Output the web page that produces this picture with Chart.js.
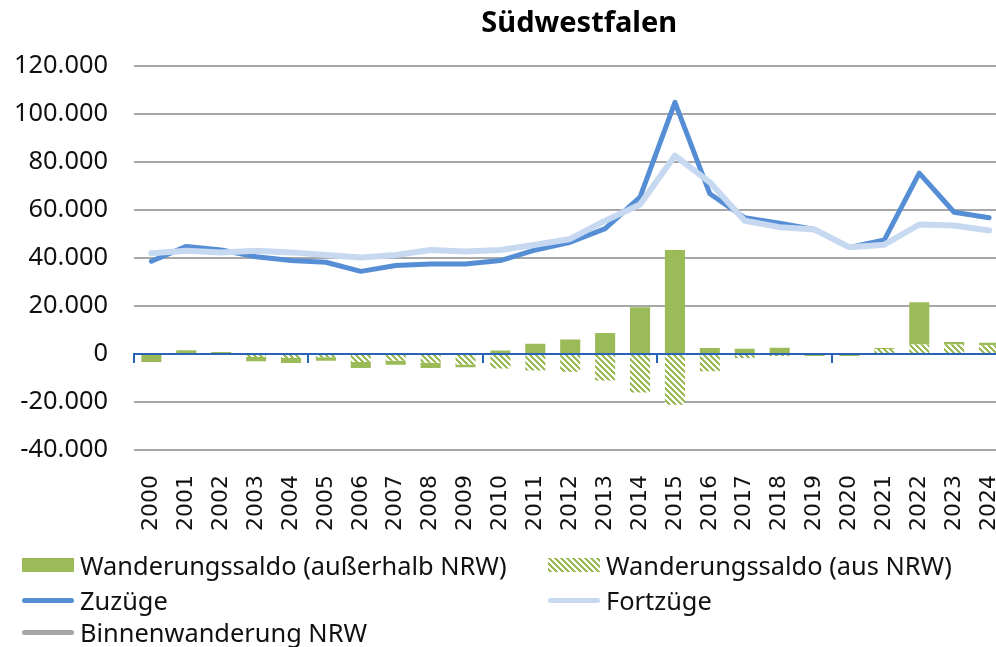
<!DOCTYPE html>
<html><head><meta charset="utf-8">
<script src="https://cdn.jsdelivr.net/npm/chart.js@4/dist/chart.umd.min.js"></script>
<style>
html,body{margin:0;padding:0;background:#fff;overflow:hidden;width:996px;height:647px;}
#wrap{position:absolute;left:0;top:0;}
#legend{position:absolute;left:0;top:0;width:996px;height:647px;font-family:'Noto Sans';font-size:25.4px;color:#111;pointer-events:none;}
.item{position:absolute;display:flex;align-items:center;white-space:nowrap;height:30px;}
.sw{width:52px;margin-right:6px;flex:none;}
</style></head><body>
<div id="wrap"><canvas id="c" width="1060" height="530"></canvas></div>
<div id="legend"></div>
<script>
const years = ['2000','2001','2002','2003','2004','2005','2006','2007','2008','2009','2010','2011','2012','2013','2014','2015','2016','2017','2018','2019','2020','2021','2022','2023','2024'];
const saldoAusserhalbNRW = [-3400,1500,800,-1700,-2100,-1400,-2500,-1700,-2100,-1100,1400,4200,6000,8700,19400,43300,2500,2200,2600,-900,-900,400,17600,1100,1100];
const saldoAusNRW = [0,0,0,-1300,-1700,-1400,-3300,-2800,-3700,-4400,-6100,-6900,-7400,-11100,-16000,-21100,-7200,-1700,-900,0,0,2100,3900,3900,3600];
const zuzuege = [38600,44800,43300,40500,38900,38200,34400,36800,37500,37500,38900,43300,46500,52200,65300,104800,66700,56700,54400,51800,44400,47500,75300,59000,56700];
const fortzuege = [41900,43000,42300,43000,42300,41200,40200,41200,43300,42700,43300,45500,47900,55500,62200,82600,71500,55500,52800,51800,44400,45500,53900,53500,51400];
const binnenwanderungNRW = [null,null,null,null,null,null,null,null,null,null,null,null,null,null,null,null,null,null,null,null,null,null,null,null,null];
const yMin = -40000, yMax = 120000, yStep = 20000;

const GREEN = '#9bbb59', DARKBLUE = '#558ed5', LIGHTBLUE = '#c6d9f1', GRAY = '#a6a6a6', AXISBLUE = '#2a62b5';

function makeHatchCanvas(color){
  const size = 6;
  const c = document.createElement('canvas'); c.width = size; c.height = size;
  const g = c.getContext('2d');
  g.fillStyle = '#fff'; g.fillRect(0,0,size,size);
  g.fillStyle = color;
  for (let y=0;y<size;y++) for (let x=0;x<size;x++) if ((((x - y) % size) + size) % size < 3) g.fillRect(x,y,1,1);
  return c;
}
const hatchCanvas = makeHatchCanvas(GREEN);
const hatch = hatchCanvas.getContext('2d').createPattern(hatchCanvas,'repeat');

function fmt(v){
  const s = Math.abs(v).toString().replace(/\B(?=(\d{3})+(?!\d))/g,'.');
  return (v<0?'-':'') + s;
}

// shift the title box start so its centre sits where the reference has it
const TITLE_LEFT_SHIFT = 18;
const titleShift = {
  id:'titleShift',
  afterLayout(ch){ if (ch.titleBlock) { ch.titleBlock.left += TITLE_LEFT_SHIFT; } }
};

function makeConfig(){
  return {
  type: 'bar',
  data: {
    labels: years,
    datasets: [
      {label:'Wanderungssaldo (außerhalb NRW)', data: saldoAusserhalbNRW, backgroundColor: GREEN, borderWidth:0, stack:'saldo', order:4, categoryPercentage:1, barPercentage:0.575},
      {label:'Wanderungssaldo (aus NRW)', data: saldoAusNRW, backgroundColor: hatch, borderWidth:0, stack:'saldo', order:3, categoryPercentage:1, barPercentage:0.575},
      {type:'line', label:'Zuzüge', data: zuzuege, borderColor: DARKBLUE, backgroundColor: DARKBLUE, borderWidth:5, pointRadius:0, tension:0, stack:'z', order:2, borderCapStyle:'round', borderJoinStyle:'round'},
      {type:'line', label:'Fortzüge', data: fortzuege, borderColor: LIGHTBLUE, backgroundColor: LIGHTBLUE, borderWidth:6, pointRadius:0, tension:0, stack:'f', order:1, borderCapStyle:'round', borderJoinStyle:'round'},
      {type:'line', label:'Binnenwanderung NRW', data: binnenwanderungNRW, borderColor: GRAY, backgroundColor: GRAY, borderWidth:5, pointRadius:0, tension:0, stack:'b', order:0}
    ]
  },
  plugins:[titleShift],
  options: {
    responsive:false, animation:false,
    layout:{padding:{left:0, right:0, top:0, bottom:0}},
    plugins:{
      legend:{display:false},
      tooltip:{enabled:false},
      title:{display:true, text:'Südwestfalen', fullSize:false, color:'#000', font:{family:'Noto Sans', size:29, weight:'bold'}, padding:{top:6, bottom:25}}
    },
    scales:{
      x:{type:'category', offset:true, stacked:true, grid:{display:false, offset:true}, border:{display:false},
         ticks:{autoSkip:false, maxRotation:90, minRotation:90, padding:17, color:'#111', font:{family:'DejaVu Sans', size:22}}},
      x2:{type:'category', axis:'x', position:{y:0}, offset:true, z:1,
          grid:{offset:true, drawOnChartArea:false, drawTicks:true, tickLength:8, lineWidth:2, color:(c)=> (c.index % 5 === 0 ? AXISBLUE : 'rgba(0,0,0,0)')},
          border:{display:true, color:AXISBLUE, width:2},
          ticks:{display:false}},
      y:{min:yMin, max:yMax, stacked:true, border:{display:false},
         grid:{drawTicks:false, lineWidth:2, color:(c)=> (c.tick && c.tick.value === 0 ? 'rgba(0,0,0,0)' : '#a8a8a8')},
         ticks:{stepSize:yStep, callback:(v)=>fmt(v), padding:26, color:'#111', font:{family:'Noto Sans', size:25.4}}}
    }
  }
  };
}

// Fit the plot area to the reference frame: left edge 134, right edge 1007, bottom 450
const TARGET_LEFT = 134, TARGET_RIGHT = 1007, TARGET_BOTTOM = 450;
const canvas = document.getElementById('c');
let chart = new Chart(canvas.getContext('2d'), makeConfig());
let a = chart.chartArea;
const newW = Math.round(chart.width + (TARGET_RIGHT - TARGET_LEFT) - (a.right - a.left));
const newH = Math.round(chart.height + TARGET_BOTTOM - a.bottom);
chart.destroy();
canvas.width = newW; canvas.height = newH;
chart = new Chart(canvas.getContext('2d'), makeConfig());
a = chart.chartArea;
document.getElementById('wrap').style.left = Math.round(TARGET_LEFT - a.left) + 'px';

// HTML legend built from the chart's datasets
const legendLayout = [
  {ds:0, left:22, top:566}, {ds:1, left:548, top:566},
  {ds:2, left:22, top:601}, {ds:3, left:548, top:601},
  {ds:4, left:22, top:633}
];
const legendEl = document.getElementById('legend');
legendLayout.forEach(it=>{
  const d = chart.data.datasets[it.ds];
  const item = document.createElement('div');
  item.className = 'item';
  item.style.left = it.left + 'px';
  item.style.top = (it.top - 16) + 'px';
  const sw = document.createElement('div');
  sw.className = 'sw';
  if (d.type === 'line') {
    sw.style.height = '5px'; sw.style.borderRadius = '3px'; sw.style.background = d.borderColor;
  } else if (d.backgroundColor === hatch) {
    sw.style.height = '14px'; sw.style.backgroundImage = 'url(' + hatchCanvas.toDataURL() + ')';
  } else {
    sw.style.height = '14px'; sw.style.background = d.backgroundColor;
  }
  const tx = document.createElement('span');
  tx.textContent = d.label;
  item.appendChild(sw); item.appendChild(tx);
  legendEl.appendChild(item);
});
</script>
</body></html>
